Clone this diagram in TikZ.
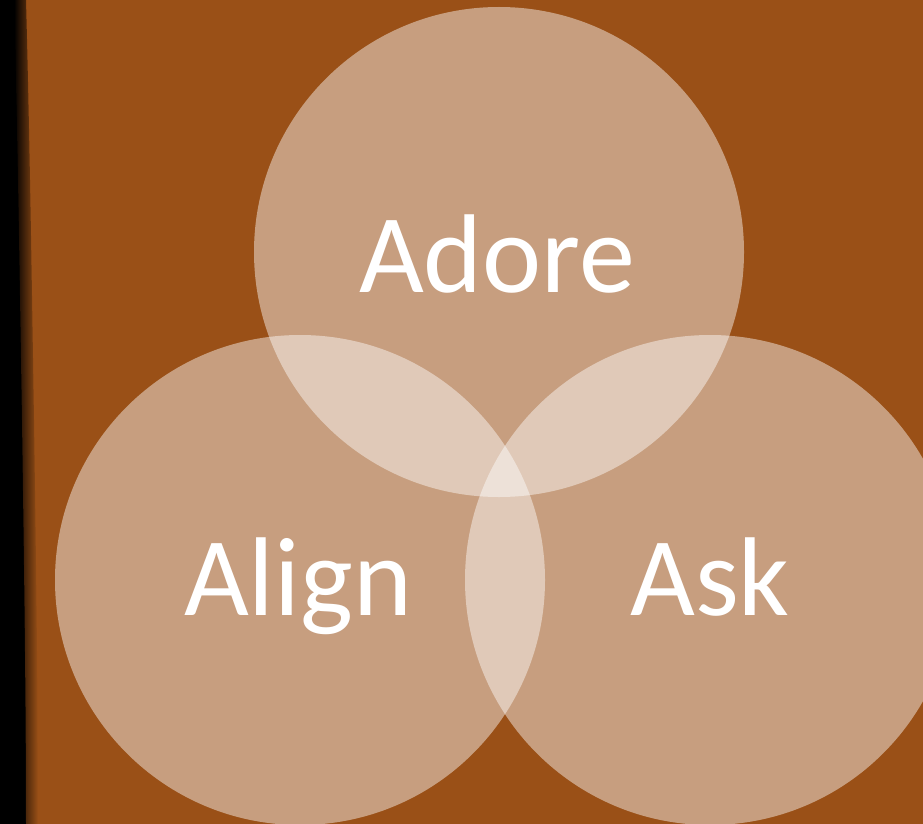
\documentclass[tikz,border=0pt]{standalone}
\usepackage{fontspec}
\setmainfont{Carlito}
\definecolor{bgbrown}{HTML}{9A5017}
\begin{document}
\begin{tikzpicture}[x=1pt,y=-1pt,
  venn/.style={fill=white,fill opacity=0.45,draw=none},
  lbl/.style={text=white,font=\fontsize{112}{112}\selectfont,anchor=base,inner sep=0pt}]
\useasboundingbox (0,0) rectangle (923,824);
\fill[bgbrown] (0,0) rectangle (923,824);
% dark left edge
\fill[black] (0,0) -- (16,0) .. controls (20,150) and (22,300) .. (24,420) .. controls (26,560) and (28,700) .. (28,824) -- (0,824) -- cycle;
\shade[left color=black,right color=bgbrown,draw=none] (14,0) -- (26,0) .. controls (30,150) and (32,300) .. (34,420) .. controls (36,560) and (38,700) .. (38,824) -- (26,824) .. controls (26,700) and (24,560) .. (22,420) .. controls (20,300) and (18,150) .. (14,0) -- cycle;
\begin{scope}
\clip (0,0) rectangle (923,824);
\fill[venn] (499,252) circle[radius=245];
\fill[venn] (300,580) circle[radius=245];
\fill[venn] (710,580) circle[radius=245];
\end{scope}
\node[lbl] (adore) at (497,292) {Adore};
\node[lbl] (align) at (298,615) {Align};
\node[lbl] (ask) at (710,615) {Ask};
\end{tikzpicture}
\end{document}
